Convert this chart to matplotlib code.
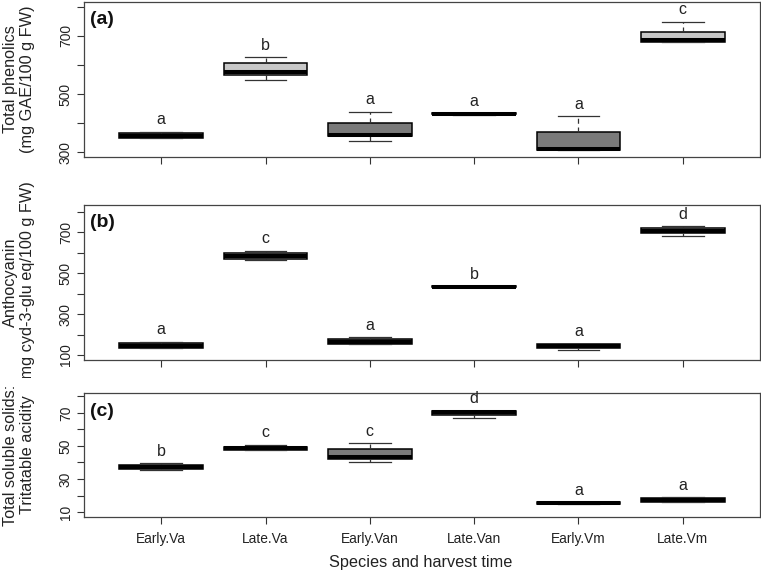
import matplotlib
matplotlib.use("Agg")
from matplotlib import pyplot as plt
from matplotlib.transforms import Bbox, TransformedBbox

plt.rcParams['font.family'] = ['Liberation Sans', 'DejaVu Sans']

# groups on the x axis
groups = ['Early.Va', 'Late.Va', 'Early.Van', 'Late.Van', 'Early.Vm', 'Late.Vm']

# five-number summaries per group: (low whisker, q1, median, q3, high whisker)
phenolics = [(350, 350, 357, 364, 370),
             (548, 565, 577, 607, 626),
             (339, 355, 360, 401, 439),
             (426, 430, 432, 434, 434),
             (306, 306, 309, 370, 424),
             (679, 679, 685, 715, 749)]
anthocyanin = [(133, 133, 145, 157, 165),
               (563, 568, 584, 599, 609),
               (152, 152, 164, 177, 186),
               (431, 431, 433, 435, 435),
               (124, 133, 145, 155, 155),
               (682, 694, 706, 718, 728)]
tss_ta = [(35.5, 36.0, 37.3, 38.5, 39.5),
          (47.6, 47.6, 48.5, 49.6, 50.6),
          (40.5, 42.1, 43.3, 48.2, 51.6),
          (66.8, 68.4, 70.6, 71.2, 71.2),
          (15.0, 15.0, 15.5, 16.0, 16.0),
          (16.2, 16.2, 17.0, 18.3, 18.9)]

# significance letters
letters_a = ['a', 'b', 'a', 'a', 'a', 'c']
letters_b = ['a', 'c', 'a', 'b', 'a', 'd']
letters_c = ['b', 'c', 'c', 'd', 'a', 'a']

panel_tags = ['(a)', '(b)', '(c)']
ylabels = ['Total phenolics\n(mg GAE/100 g FW)',
           'Anthocyanin\n(mg cyd-3-glu eq/100 g FW)',
           'Total soluble solids:\nTritatable acidity']

DARK = '#7a7a7a'
LIGHT = '#c8c8c8'
fills = [DARK, LIGHT, DARK, DARK, DARK, LIGHT]

W, H = 761, 572
fig = plt.figure(figsize=(W / 100, H / 100), dpi=100)


def px_axes(left, top, right, bottom):
    return fig.add_axes([left / W, 1 - bottom / H, (right - left) / W, (bottom - top) / H])


ax_a = px_axes(84, 2, 760, 157)
ax_b = px_axes(84, 205, 760, 360)
ax_c = px_axes(84, 393, 760, 517)

panels = [
    (ax_a, phenolics, letters_a, (283, 817), range(300, 801, 100), [300, 500, 700]),
    (ax_b, anthocyanin, letters_b, (76, 832), range(100, 801, 100), [100, 300, 500, 700]),
    (ax_c, tss_ta, letters_c, (7, 82), range(10, 81, 10), [10, 30, 50, 70]),
]

for i, (ax, summ, lets, ylim, yt, ylab) in enumerate(panels):
    stats = []
    for g, s in zip(groups, summ):
        stats.append(dict(label=g, whislo=s[0], q1=s[1], med=s[2], q3=s[3], whishi=s[4], fliers=[]))
    bp = ax.bxp(stats, positions=range(1, 7), widths=0.8, capwidths=0.4,
                patch_artist=True, showfliers=False,
                boxprops=dict(edgecolor='black', linewidth=1.1),
                medianprops=dict(color='black', linewidth=2.9, solid_capstyle='butt'),
                whiskerprops=dict(color='#333333', linewidth=0.9, linestyle=(0, (4, 3))),
                capprops=dict(color='#333333', linewidth=0.9))
    for patch, c in zip(bp['boxes'], fills):
        patch.set_facecolor(c)

    for x, s, l in zip(range(1, 7), summ, lets):
        ax.annotate(l, (x, s[4]), xytext=(0, 12), textcoords='offset pixels',
                    ha='center', va='center', fontsize=11.5, color='#222222')

    ax.annotate(panel_tags[i], (0, 1), xycoords='axes fraction', xytext=(6, -18),
                textcoords='offset pixels', ha='left', va='center',
                fontsize=14, fontweight='bold', color='#111111')

    ax.set_xlim(0.26, 6.74)
    ax.set_ylim(*ylim)
    ax.set_yticks(list(yt))
    ax.set_yticklabels([str(v) if v in ylab else '' for v in yt])
    plt.setp(ax.get_yticklabels(), rotation=90, va='center')
    ax.set_xticks(range(1, 7))
    if ax is ax_c:
        ax.set_xticklabels(groups)
    else:
        ax.set_xticklabels([])
    ax.tick_params(length=5, width=0.8, color='#333333', labelsize=9.9, labelcolor='#222222')
    ax.tick_params(axis='y', pad=3)
    ax.tick_params(axis='x', pad=6)
    for sp in ax.spines.values():
        sp.set_color('#444444')
        sp.set_linewidth(0.9)

# y axis titles, placed beside each panel; (b) is cut off as in the original
label_spans = [(0, 183), (183, 378), (378, 572)]
for ax, lab, (y0, y1) in zip([ax_a, ax_b, ax_c], ylabels, label_spans):
    pos = ax.get_position()
    t = fig.text(19 / W, pos.y0 + pos.height / 2, lab, rotation=90, ha='center', va='center',
                 multialignment='center', fontsize=11.7, color='#222222', linespacing=1.15)
    t.set_clip_on(True)
    t.set_clip_box(TransformedBbox(Bbox.from_extents(0, 1 - y1 / H, 1, 1 - y0 / H), fig.transFigure))

fig.text(421 / W, 1 - 563 / H, 'Species and harvest time', ha='center', va='center',
         fontsize=11.7, color='#222222')

fig.savefig('out.png', dpi=100)
